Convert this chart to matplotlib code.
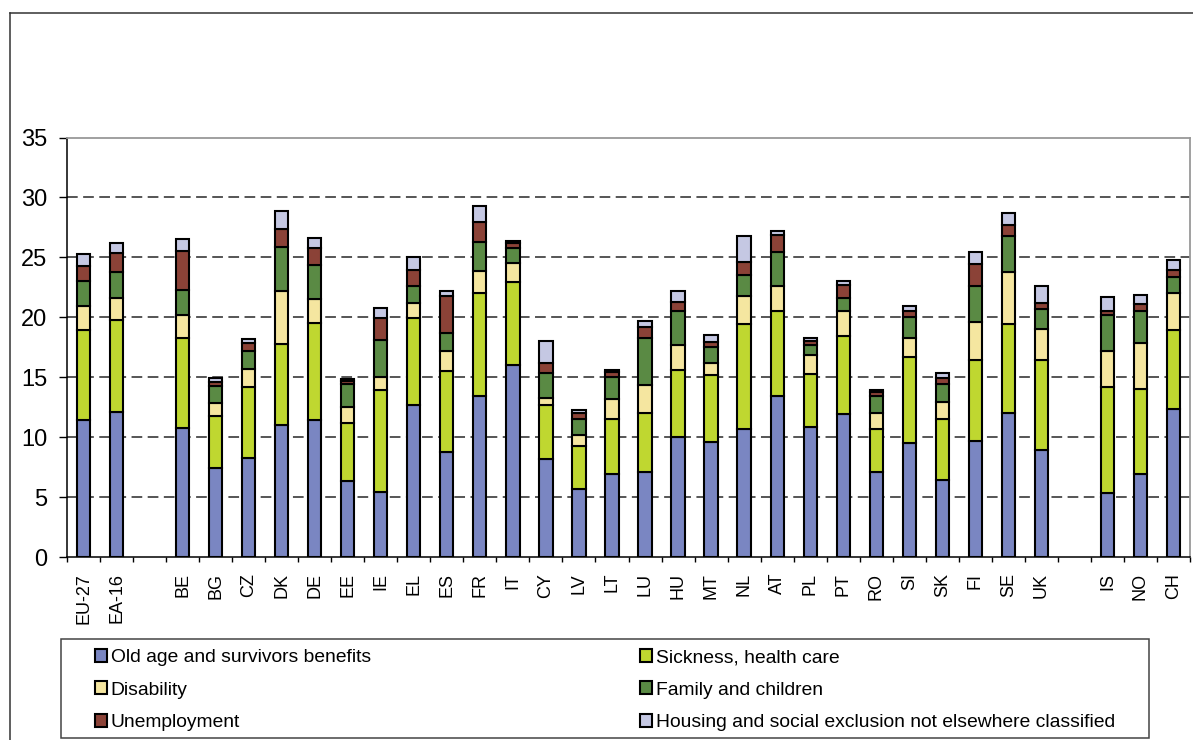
import matplotlib
matplotlib.use('Agg')
import matplotlib.pyplot as plt
from matplotlib.lines import Line2D
from matplotlib.patches import Rectangle
import numpy as np

plt.rcParams.update({
    'font.family': ['Liberation Sans', 'DejaVu Sans'],
    'font.size': 13,
})

countries = ['EU-27', 'EA-16', 'BE', 'BG', 'CZ', 'DK', 'DE', 'EE', 'IE', 'EL',
             'ES', 'FR', 'IT', 'CY', 'LV', 'LT', 'LU', 'HU', 'MT', 'NL', 'AT',
             'PL', 'PT', 'RO', 'SI', 'SK', 'FI', 'SE', 'UK', 'IS', 'NO', 'CH']

old_age = [11.4, 12.1, 10.8, 7.4, 8.3, 11.05, 11.45, 6.3, 5.4, 12.7, 8.75, 13.4,
           16.0, 8.2, 5.65, 6.95, 7.1, 10.0, 9.6, 10.65, 13.4, 10.85, 11.9, 7.1,
           9.55, 6.45, 9.65, 12.0, 8.95, 5.35, 6.9, 12.35]
sickness = [7.5, 7.7, 7.45, 4.4, 5.9, 6.7, 8.1, 4.9, 8.5, 7.2, 6.8, 8.65, 6.95,
            4.45, 3.65, 4.55, 4.9, 5.6, 5.55, 8.8, 7.1, 4.4, 6.5, 3.55, 7.15,
            5.1, 6.75, 7.45, 7.5, 8.85, 7.15, 6.6]
disability = [2.0, 1.8, 1.95, 1.05, 1.5, 4.45, 2.0, 1.35, 1.1, 1.3, 1.65, 1.8,
              1.6, 0.65, 0.85, 1.7, 2.35, 2.1, 1.05, 2.3, 2.1, 1.6, 2.1, 1.35,
              1.6, 1.35, 3.2, 4.3, 2.6, 3.0, 3.8, 3.1]
family = [2.1, 2.2, 2.1, 1.45, 1.5, 3.65, 2.85, 1.85, 3.1, 1.45, 1.45, 2.45,
          1.25, 2.05, 1.4, 1.85, 3.9, 2.8, 1.3, 1.8, 2.85, 0.85, 1.15, 1.4,
          1.75, 1.5, 3.0, 3.05, 1.6, 3.0, 2.7, 1.3]
unemployment = [1.3, 1.6, 3.2, 0.3, 0.65, 1.5, 1.4, 0.3, 1.8, 1.3, 3.1, 1.65,
                0.4, 0.85, 0.45, 0.35, 0.9, 0.75, 0.45, 1.1, 1.4, 0.3, 1.05,
                0.35, 0.5, 0.55, 1.85, 0.9, 0.55, 0.3, 0.55, 0.6]
housing = [1.0, 0.8, 1.0, 0.3, 0.3, 1.5, 0.8, 0.15, 0.9, 1.1, 0.45, 1.35, 0.2,
           1.85, 0.3, 0.2, 0.55, 0.95, 0.6, 2.15, 0.35, 0.25, 0.35, 0.2, 0.4,
           0.4, 1.0, 1.0, 1.45, 1.2, 0.8, 0.8]

series = [
    ('Old age and survivors benefits', old_age, '#7a86c2'),
    ('Sickness, health care', sickness, '#bfd730'),
    ('Disability', disability, '#f5e6a0'),
    ('Family and children', family, '#5a8a44'),
    ('Unemployment', unemployment, '#8b4237'),
    ('Housing and social exclusion not elsewhere classified', housing, '#c5c8e3'),
]

# one empty slot after the aggregates and one before the EFTA countries
idx = np.arange(len(countries))
xpos = idx + (idx >= 2) + (idx >= 29)
nslots = xpos[-1] + 1

fig = plt.figure(figsize=(11.93, 7.40), dpi=100)
ax = fig.add_axes([67 / 1193, 1 - 557 / 740, (1190 - 67) / 1193, (557 - 137.5) / 740])

bottom = np.zeros(len(countries))
handles = []
for label, vals, color in series:
    vals = np.array(vals)
    b = ax.bar(xpos, vals, width=0.40, bottom=bottom, color=color,
               edgecolor='black', linewidth=1.5, label=label, zorder=3)
    handles.append(b)
    bottom += vals

ax.set_xlim(-0.5, nslots - 0.5)
ax.set_ylim(0, 35)
ax.set_yticks(np.arange(0, 36, 5))
for y in range(5, 35, 5):
    ax.axhline(y, color='#555555', linewidth=1.4, linestyle=(0, (5.5, 2.8)), zorder=1)

ax.set_xticks(xpos)
ax.set_xticklabels(countries, rotation=90, fontsize=13)
ax.set_xticks(np.arange(nslots + 1) - 0.5, minor=True)
ax.tick_params(axis='x', which='major', length=0, pad=11.5)
ax.tick_params(axis='x', which='minor', length=3.5, width=1.0, direction='out')
ax.tick_params(axis='y', length=6, width=1.0, direction='out', pad=8, labelsize=17)

for side in ('top', 'right'):
    ax.spines[side].set_color('#999999')
    ax.spines[side].set_linewidth(1.3)
for side in ('left', 'bottom'):
    ax.spines[side].set_color('black')
    ax.spines[side].set_linewidth(1.1)

# outer frame and legend box
fig.add_artist(Line2D([9.5 / 1193, 1.0], [1 - 13 / 740] * 2, color='#333333', linewidth=1.1))
fig.add_artist(Line2D([9.5 / 1193] * 2, [0.0, 1 - 13 / 740], color='#333333', linewidth=1.1))
fig.add_artist(Rectangle((61 / 1193, 1 - 738 / 740), (1149 - 61) / 1193, (738 - 639) / 740,
                         transform=fig.transFigure, fill=False, edgecolor='#444444',
                         linewidth=1.1))

# legend reads row by row: matplotlib fills columns first, so reorder
order = [0, 2, 4, 1, 3, 5]
fig.legend(handles=[handles[i] for i in order], ncol=2, loc='upper left', mode='expand',
           bbox_to_anchor=(95 / 1193, 1 - 649 / 740, (1115 - 95) / 1193, 0.0),
           frameon=False, fontsize=13.9, handlelength=0.62, handleheight=0.62,
           handletextpad=0.2, labelspacing=0.8, borderpad=0, borderaxespad=0)

fig.savefig('out.png', dpi=100)
